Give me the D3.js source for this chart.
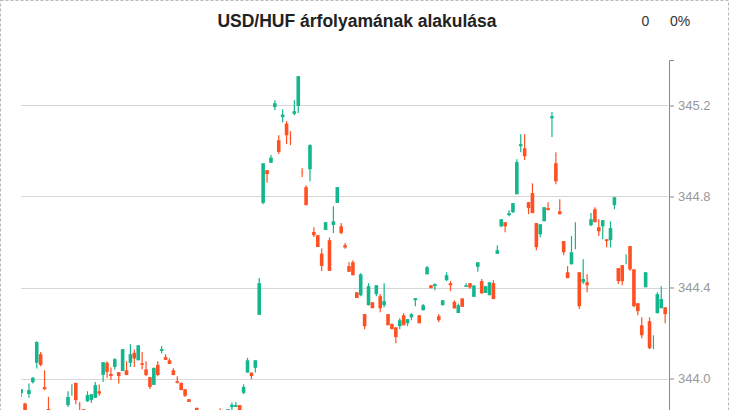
<!DOCTYPE html>
<html><head><meta charset="utf-8">
<script src="https://cdn.jsdelivr.net/npm/d3@7"></script>
<style>body{margin:0;background:#fff;overflow:hidden}svg{display:block}</style>
</head><body><svg id="c" width="730" height="410"></svg>
<script>
const titleText = "USD/HUF árfolyamának alakulása";
const changeAbs = "0";
const changePct = "0%";
const yTicks = [344.0, 344.4, 344.8, 345.2];

const opens = [343.935,343.890,343.932,343.984,344.069,344.107,343.962,343.866,343.840,343.790,343.760,343.790,343.883,343.949,343.981,343.884,343.865,343.900,343.905,343.915,343.944,344.016,344.069,344.020,344.051,344.028,344.033,344.036,344.069,344.113,344.080,344.067,344.040,344.006,343.972,344.060,344.121,344.094,344.080,344.036,343.988,343.981,343.953,343.909,343.850,343.871,343.840,343.800,343.770,343.750,343.760,343.801,343.800,343.830,343.874,343.875,343.883,343.937,344.026,344.026,344.047,344.280,344.772,344.916,344.948,345.193,345.047,345.149,345.121,345.057,345.163,345.198,344.908,344.841,344.920,344.644,344.630,344.549,344.653,344.608,344.675,344.772,344.669,344.586,344.494,344.511,344.379,344.366,344.283,344.322,344.335,344.371,344.362,344.322,344.283,344.239,344.225,344.230,344.278,344.243,344.269,344.344,344.278,344.300,344.458,344.410,344.406,344.274,344.322,344.432,344.419,344.337,344.288,344.352,344.403,344.419,344.359,344.491,344.428,344.376,344.366,344.419,344.548,344.669,344.687,344.718,344.731,344.810,345.021,345.012,344.775,344.815,344.683,344.634,344.691,344.749,345.144,344.946,344.735,344.604,344.467,344.502,344.652,344.467,344.423,344.423,344.674,344.744,344.665,344.669,344.612,344.608,344.762,344.485,344.498,344.524,344.582,344.480,344.331,344.234,344.401,344.252,344.160,344.287,344.309,344.313];
const highs = [343.953,343.893,343.978,344.007,344.164,344.116,344.036,343.919,343.850,343.810,343.800,343.840,343.944,343.975,343.981,343.897,343.865,343.944,343.931,343.985,343.974,344.072,344.076,344.048,344.089,344.028,344.129,344.076,344.151,344.127,344.146,344.116,344.076,344.006,344.047,344.076,344.143,344.107,344.089,344.045,344.010,343.981,343.953,343.909,343.852,343.871,343.845,343.820,343.790,343.780,343.800,343.869,343.830,343.865,343.894,343.897,343.883,343.975,344.091,344.026,344.080,344.442,344.946,344.916,344.982,345.223,345.069,345.184,345.131,345.087,345.223,345.329,344.924,344.850,345.030,344.665,344.630,344.571,344.687,344.620,344.757,344.841,344.683,344.596,344.511,344.520,344.379,344.463,344.283,344.419,344.335,344.410,344.371,344.419,344.283,344.243,344.225,344.265,344.287,344.261,344.287,344.353,344.278,344.327,344.494,344.410,344.419,344.283,344.344,344.467,344.428,344.344,344.330,344.352,344.419,344.419,344.409,344.511,344.437,344.406,344.423,344.432,344.586,344.700,344.687,344.740,344.771,344.964,345.074,345.074,344.775,344.858,344.683,344.678,344.753,344.775,345.171,344.995,344.788,344.604,344.494,344.626,344.687,344.467,344.524,344.458,344.727,344.753,344.700,344.696,344.612,344.691,344.797,344.485,344.498,344.546,344.582,344.480,344.331,344.269,344.467,344.269,344.190,344.379,344.406,344.313];
const lows = [343.919,343.817,343.915,343.978,344.044,344.054,343.949,343.852,343.770,343.740,343.740,343.780,343.875,343.924,343.887,343.839,343.830,343.897,343.893,343.915,343.924,343.985,344.003,343.993,344.040,343.978,344.033,344.015,344.051,344.051,344.080,344.041,344.011,343.954,343.972,344.010,344.110,344.082,344.064,344.015,343.978,343.949,343.919,343.897,343.800,343.820,343.780,343.750,343.730,343.720,343.740,343.780,343.770,343.820,343.850,343.875,343.840,343.931,344.026,343.997,344.026,344.280,344.766,344.860,344.948,345.179,344.987,345.125,345.030,345.026,345.157,345.167,344.886,344.762,344.867,344.622,344.578,344.473,344.653,344.473,344.640,344.772,344.634,344.570,344.469,344.454,344.354,344.362,344.217,344.322,344.309,344.362,344.291,344.313,344.234,344.217,344.155,344.217,344.234,344.230,344.256,344.318,344.243,344.300,344.458,344.397,344.388,344.247,344.322,344.428,344.384,344.308,344.288,344.315,344.403,344.394,344.359,344.469,344.374,344.376,344.366,344.349,344.548,344.665,344.643,344.713,344.727,344.810,344.995,344.960,344.722,344.727,344.564,344.621,344.691,344.740,345.061,344.854,344.722,344.542,344.441,344.502,344.568,344.305,344.415,344.379,344.669,344.687,344.626,344.612,344.577,344.577,344.744,344.415,344.410,344.502,344.472,344.313,344.278,344.177,344.401,344.129,344.129,344.287,344.309,344.243];
const closes = [343.953,343.826,343.949,344.003,344.160,344.060,343.953,343.856,343.790,343.760,343.790,343.830,343.919,343.949,343.905,343.883,343.843,343.927,343.931,343.971,343.934,344.072,344.029,344.011,344.085,344.011,344.129,344.015,344.107,344.088,344.146,344.060,344.015,343.963,344.047,344.015,344.129,344.082,344.064,344.015,343.981,343.949,343.924,343.897,343.820,343.840,343.800,343.770,343.750,343.760,343.790,343.800,343.820,343.865,343.885,343.883,343.852,343.963,344.080,344.011,344.080,344.419,344.946,344.898,344.971,345.210,344.996,345.160,345.069,345.056,345.175,345.329,344.907,344.762,345.026,344.630,344.578,344.495,344.687,344.473,344.691,344.841,344.640,344.576,344.469,344.454,344.354,344.458,344.230,344.406,344.309,344.410,344.309,344.340,344.234,344.217,344.182,344.256,344.234,344.261,344.283,344.353,344.243,344.322,344.489,344.397,344.415,344.256,344.344,344.454,344.410,344.308,344.322,344.315,344.410,344.400,344.409,344.511,344.374,344.406,344.423,344.349,344.564,344.700,344.669,344.727,344.771,344.951,345.030,344.977,344.749,344.727,344.577,344.678,344.753,344.740,345.153,344.867,344.722,344.555,344.441,344.555,344.652,344.318,344.437,344.410,344.700,344.687,344.647,344.696,344.604,344.661,344.797,344.428,344.428,344.524,344.480,344.318,344.296,344.190,344.467,344.133,344.160,344.371,344.349,344.283];

const categories = opens.map((d, i) => i);
const candles = categories.map(i => ({i, o: opens[i], h: highs[i], l: lows[i], c: closes[i]}));

const UP = "#14b68e", DOWN = "#ff5023";
const svg = d3.select("#c");

// dashed frame
svg.append("rect").attr("x", 0.5).attr("y", 0.5).attr("width", 728).attr("height", 700)
  .attr("fill", "none").attr("stroke", "#b8b8b8").attr("stroke-dasharray", "3,2");

const plotL = 21, plotR = 668, plotT = 60;
const pxPerUnit = 227.5;
const y = d3.scaleLinear().domain([343.6, 345.4]).range([plotT + 1.8 * pxPerUnit, plotT]);
const x = d3.scaleBand().domain(categories).range([19.35, 666.95]).paddingInner(0.08);

// grid
svg.append("g").selectAll("line").data(yTicks).join("line")
  .attr("x1", plotL).attr("x2", plotR)
  .attr("y1", d => Math.round(y(d)) + 0.5).attr("y2", d => Math.round(y(d)) + 0.5)
  .attr("stroke", "#d6d6d6").attr("stroke-width", 1);

// clip
svg.append("clipPath").attr("id", "pc").append("rect")
  .attr("x", plotL).attr("y", plotT).attr("width", plotR - plotL).attr("height", 600);

const g = svg.append("g").attr("clip-path", "url(#pc)");
const col = d => d.c >= d.o ? UP : DOWN;
g.selectAll("line.w").data(candles).join("line").attr("class", "w")
  .attr("x1", d => x(d.i) + x.bandwidth() / 2).attr("x2", d => x(d.i) + x.bandwidth() / 2)
  .attr("y1", d => y(d.h)).attr("y2", d => y(d.l))
  .attr("stroke", col).attr("stroke-width", 1.2);
g.selectAll("rect.b").data(candles).join("rect").attr("class", "b")
  .attr("x", d => x(d.i)).attr("width", x.bandwidth())
  .attr("y", d => y(Math.max(d.o, d.c)))
  .attr("height", d => Math.abs(y(d.o) - y(d.c)))
  .attr("fill", col);

// axis
const ax = svg.append("g").attr("transform", `translate(669,0)`)
  .call(d3.axisRight(y).tickValues(yTicks).tickFormat(d3.format(".1f")).tickSize(5).tickPadding(4));
ax.select(".domain").attr("stroke", "#888");
ax.selectAll(".tick line").attr("stroke", "#888");
ax.selectAll(".tick text").attr("fill", "#999").style("font", "13px 'Liberation Sans', Arial, sans-serif");

// title
svg.append("text").attr("x", 357).attr("y", 27).attr("text-anchor", "middle")
  .style("font", "bold 17.5px 'Liberation Sans', Arial, sans-serif").attr("fill", "#222").text(titleText);
svg.append("text").attr("x", 645.5).attr("y", 26).attr("text-anchor", "middle")
  .style("font", "14px 'Liberation Sans', Arial, sans-serif").attr("fill", "#333").text(changeAbs);
svg.append("text").attr("x", 680).attr("y", 26).attr("text-anchor", "middle")
  .style("font", "14px 'Liberation Sans', Arial, sans-serif").attr("fill", "#333").text(changePct);
</script></body></html>
